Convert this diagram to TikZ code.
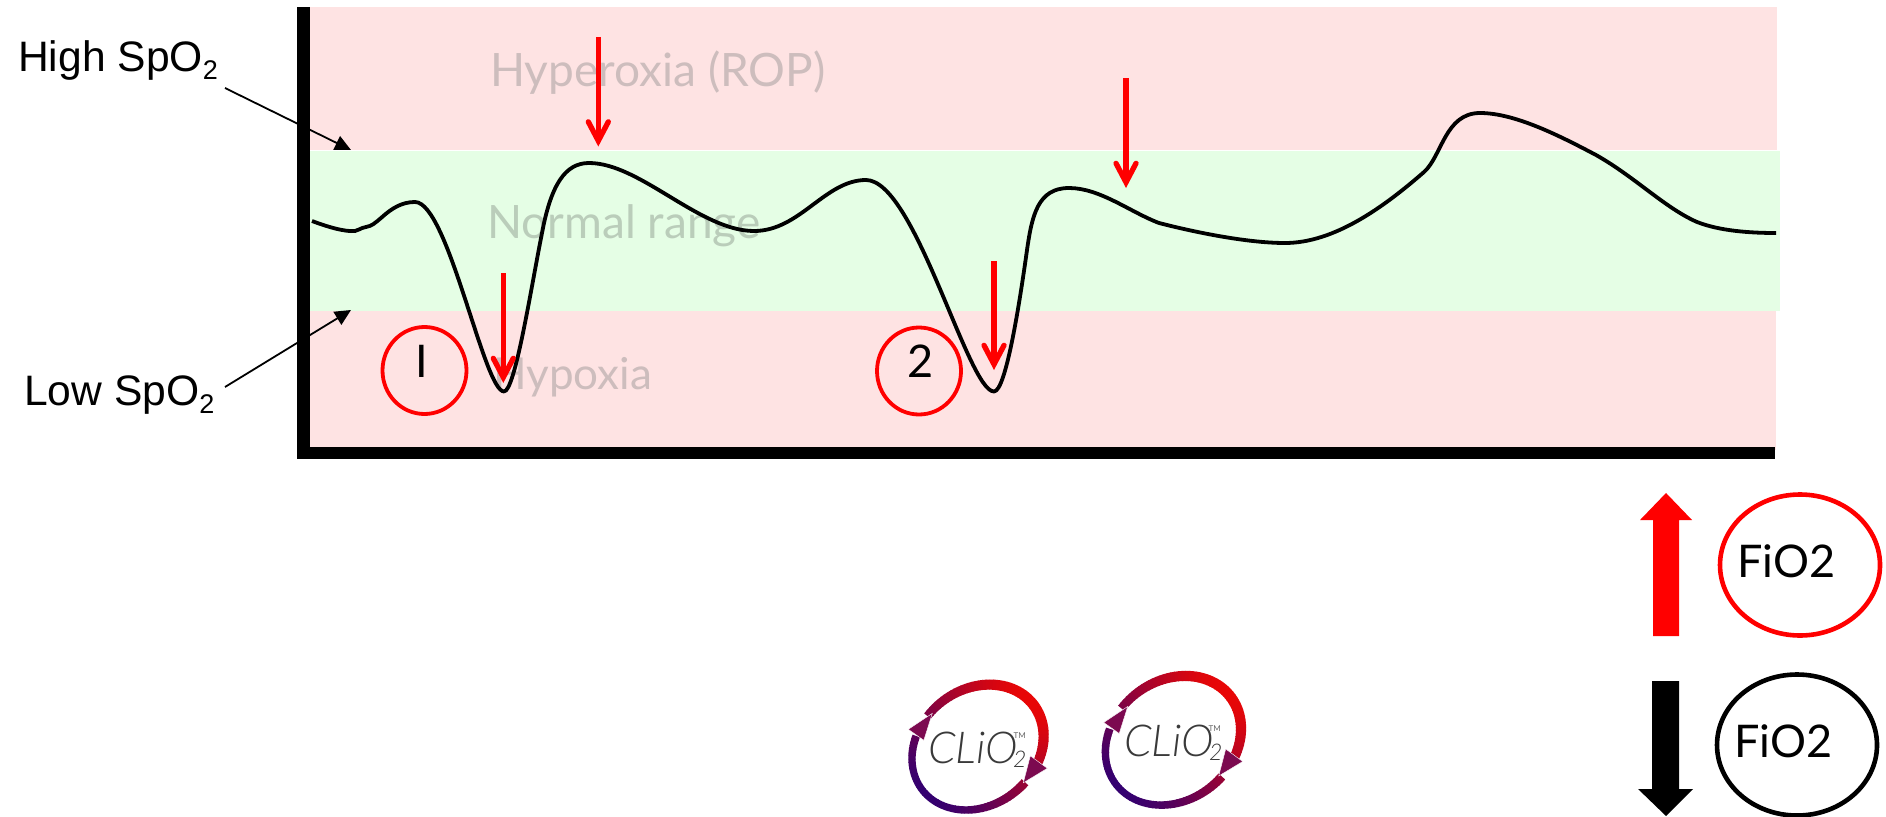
\documentclass[tikz,border=0pt]{standalone}
\usepackage{fontspec}
\setmainfont{Lato}
\newfontfamily\helv{Liberation Sans}
\newfontfamily\cliofont{Lato Light}
\usetikzlibrary{arrows.meta,shapes.geometric,calc}
\definecolor{pinkband}{HTML}{FEE3E3}
\definecolor{greenband}{HTML}{E5FEE5}
\definecolor{pinklabel}{HTML}{CDBDBD}
\definecolor{greenlabel}{HTML}{BACDBA}
\definecolor{logored}{HTML}{E80606}
\definecolor{logoviolet}{HTML}{340070}
\definecolor{logohead}{HTML}{7C0A50}
\definecolor{logotext}{HTML}{3A3A3A}
\newcommand{\spolabel}[1]{\helv\fontsize{42.6}{50}\selectfont #1 SpO\raisebox{-8pt}{\fontsize{27}{27}\selectfont 2}}
% tilted ring: cx cy scale from to (parameter t, clockwise)
\newcommand{\ringpart}[5]{%
  \pgfmathtruncatemacro\nsteps{(#4-(#5))/3}
  \foreach \k in {0,...,\nsteps}{
    \pgfmathsetmacro\angv{#4-3*\k}
    \pgfmathsetmacro\mixv{100*(cos(\angv)+1)/2}
    \pgfmathsetmacro\widv{7+0.036*\mixv}
    \pgfmathsetmacro\nexta{\angv-3.6}
    \pgfmathsetmacro\xa{#1-0.5+#3*0.735*(68.8*cos(\angv)-57.4*sin(\angv))}
    \pgfmathsetmacro\ya{#2-#3*0.700*(68.8*cos(\angv)+57.4*sin(\angv))}
    \pgfmathsetmacro\xb{#1-0.5+#3*0.735*(68.8*cos(\nexta)-57.4*sin(\nexta))}
    \pgfmathsetmacro\yb{#2-#3*0.700*(68.8*cos(\nexta)+57.4*sin(\nexta))}
    \draw[line width=\widv pt,color={logored!\mixv!logoviolet}] (\xa,\ya) -- (\xb,\yb);
  }}
\newcommand{\cliologo}[3]{% cx cy scale
  \ringpart{#1}{#2}{#3}{100}{-65}
  \ringpart{#1}{#2}{#3}{-84}{-237}
  \filldraw[logohead,draw=white,line width=0.4pt] ($(#1,#2)+(-70,-18)$) -- ++(24,-16) -- ++(-8.5,27) -- cycle;
  \filldraw[logohead,draw=white,line width=0.4pt] ($(#1,#2)+(69,21)$) -- ++(-24,14.5) -- ++(7,-27) -- cycle;
}
\tikzset{
  bandtext/.style={anchor=base west,inner sep=0pt,font=\fontsize{46}{54}\selectfont},
  redpointer/.style={draw=red,line width=5.3pt,-{Straight Barb[length=19pt,width=20pt,line cap=round,line join=miter]}},
  blackpointer/.style={draw=black,line width=1.8pt,-{Triangle[length=16pt,width=15pt]}},
  redring/.style={draw=red,line width=3.8pt,ellipse,inner sep=0pt,minimum width=84pt,minimum height=87pt},
  firing/.style={line width=4.6pt,ellipse,inner sep=0pt,minimum width=160pt,minimum height=141pt},
  fitext/.style={anchor=base west,inner sep=0pt,font=\fontsize{45}{54}\selectfont},
  spo/.style={anchor=base west,inner sep=0pt},
  numtext/.style={inner sep=0pt,font=\fontsize{45}{54}\selectfont},
  oxcurve/.style={draw=black,line width=3.8pt,line join=round},
  cliotext/.style={anchor=base west,inner sep=0pt,text=logotext,font=\cliofont\itshape\fontsize{44}{52}\selectfont},
  cliosub/.style={anchor=base west,inner sep=0pt,text=logotext,font=\cliofont\itshape\fontsize{23}{26}\selectfont},
  cliotm/.style={anchor=base west,inner sep=0pt,text=logotext!80,font=\fontsize{8}{8}\selectfont},
}
\begin{document}
\begin{tikzpicture}[x=1pt,y=-1pt]
\useasboundingbox (0,0) rectangle (1886,816);
% bands
\fill[pinkband] (310,7) rectangle (1777,150);
\fill[greenband] (310,151) rectangle (1780,311);
\fill[pinkband] (310,311) rectangle (1776,450);
% band labels
\node[bandtext,text=pinklabel] (hyper) at (490,86) {Hyperoxia (ROP)};
\node[bandtext,text=greenlabel] (normal) at (487,238) {Normal range};
\node[bandtext,text=pinklabel,font=\fontsize{44}{52}\selectfont] (hypo) at (493,389) {Hypoxia};
% curve
\draw[oxcurve] (312,221)
 .. controls (328,227) and (345,232) .. (355,231)
 .. controls (359,230.5) and (360,228) .. (366,227)
 .. controls (372,226) and (375,223) .. (381,218)
 .. controls (392,208) and (402,202) .. (415,202)
 .. controls (448,202) and (484,391.5) .. (504,391.5)
 .. controls (515,391.5) and (531,288) .. (542,233)
 .. controls (551,185) and (565,163) .. (589,163)
 .. controls (640,163) and (700,231) .. (754,231)
 .. controls (800,231) and (825,180) .. (866,180)
 .. controls (915,180) and (968,391.5) .. (994,391.5)
 .. controls (1006,391.5) and (1020,300) .. (1027,250)
 .. controls (1032,215) and (1038,188) .. (1069,188)
 .. controls (1100,188) and (1130,212) .. (1159,223)
 .. controls (1190,231) and (1245,243) .. (1285,243)
 .. controls (1335,243) and (1385,206) .. (1424,172)
 .. controls (1442,156) and (1445,113) .. (1480,113)
 .. controls (1515,113) and (1560,136) .. (1596,155)
 .. controls (1635,177) and (1665,208) .. (1697,222)
 .. controls (1720,231) and (1750,233) .. (1776,233);
% black pointers
\coordinate (hs) at (225,88);
\coordinate (hsend) at (351,150);
\coordinate (ls) at (225,387);
\coordinate (lsend) at (351,310);
\draw[blackpointer] (hs) -- (hsend);
\draw[blackpointer] (ls) -- (lsend);
% axes
\fill[black] (297,7) rectangle (310,459);
\fill[black] (297,447) rectangle (1775,459);
% labels
\node[spo] (high) at (18,71) {\spolabel{High}};
\node[spo] (low) at (24,405) {\spolabel{Low}};
% rings
\node[redring] (one) at (424.5,370.5) {};
\node[redring] (two) at (919,371) {};
\node[numtext] (onet) at (421.5,361.5) {I};
\node[numtext] (twot) at (921,361.5) {2};
% red pointers
\coordinate (a1) at (598.3,37);  \coordinate (b1) at (598.3,146.5);
\coordinate (a2) at (503.3,273); \coordinate (b2) at (503.3,383);
\coordinate (a3) at (1126,78);   \coordinate (b3) at (1126,188);
\coordinate (a4) at (994,261);   \coordinate (b4) at (994,370);
\foreach \i in {1,2,3,4}{\draw[redpointer] (a\i) -- (b\i);}
% block arrows
\fill[red] (1653,636) -- (1653,520) -- (1640,520) -- (1666,493) -- (1692,520) -- (1679,520) -- (1679,636) -- cycle;
\fill[black] (1652,681) -- (1652,789) -- (1638,789) -- (1666,816) -- (1693,789) -- (1679,789) -- (1679,681) -- cycle;
% FiO2
\node[firing,draw=red] (up) at (1800,565) {};
\node[firing,draw=black] (down) at (1797,745) {};
\node[fitext] (upt) at (1737,577) {FiO2};
\node[fitext] (downt) at (1734,757) {FiO2};
% logos
\cliologo{978.3}{747.3}{1}
\cliologo{1173.7}{740.5}{1.03}
\node[cliotext] (c1) at (928,763) {CLiO};
\node[cliosub] (c1s) at (1013,767) {2};
\node[cliotm] (c1t) at (1013.5,738) {TM};
\node[cliotext] (c2) at (1124,756) {CLiO};
\node[cliosub] (c2s) at (1209,760) {2};
\node[cliotm] (c2t) at (1208.5,731) {TM};
\end{tikzpicture}
\end{document}
